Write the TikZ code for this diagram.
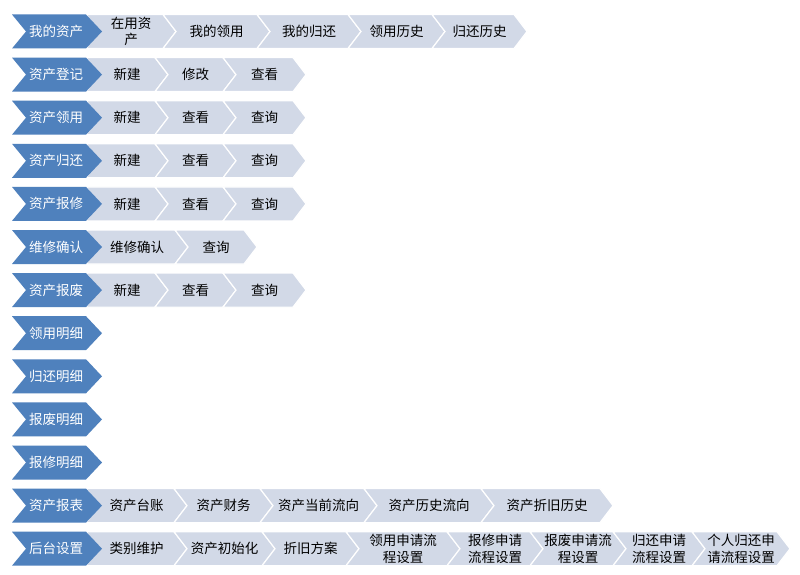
\documentclass[tikz,border=0pt]{standalone}
\usepackage{fontspec}
\newfontfamily\cjk{Noto Sans CJK SC}
\definecolor{bluec}{HTML}{4F81BD}
\definecolor{lightc}{HTML}{D2D9E7}
\tikzset{
 lchevron/.style={fill=lightc, draw=white, line width=1.2pt, line join=miter},
 bchevron/.style={fill=bluec, draw=none},
 ltext/.style={font=\cjk\fontsize{13.5}{16.5}\selectfont, text=black, align=center, inner sep=0pt},
 btext/.style={ltext, text=white},
}
\newcommand\lchev[5]{%
 \filldraw[lchevron] (#3,#2) -- (#4,#2) -- (#4+13,#2+17) -- (#4,#2+34) -- (#3,#2+34) -- (#3+13,#2+17) -- cycle;
 \node[ltext] (#1) at ({(#3+#4)/2+6.5},#2+17) {#5};}
\newcommand\bchev[3]{%
 \fill[bchevron] (12,#2) -- (86,#2) -- (102,#2+17) -- (86,#2+34) -- (12,#2+34) -- (26,#2+17) -- cycle;
 \node[btext] (#1) at (56,#2+17) {#3};}
\begin{document}
\begin{tikzpicture}[x=1pt,y=-1pt]
\fill[white] (0,0) rectangle (800,575);
\useasboundingbox (0,0) rectangle (800,575);
% row 1
\lchev{a1}{14.5}{86}{163}{在用资\\产}
\lchev{a2}{14.5}{163}{257}{我的领用}
\lchev{a3}{14.5}{257}{348}{我的归还}
\lchev{a4}{14.5}{348}{432}{领用历史}
\lchev{a5}{14.5}{432}{514}{归还历史}
\bchev{b1}{14.5}{我的资产}
% row 2
\lchev{c1}{57.6}{86}{155}{新建}
\lchev{c2}{57.6}{155}{223}{修改}
\lchev{c3}{57.6}{223}{293}{查看}
\bchev{b2}{57.6}{资产登记}
% row 3
\lchev{d1}{100.7}{86}{155}{新建}
\lchev{d2}{100.7}{155}{223}{查看}
\lchev{d3}{100.7}{223}{293}{查询}
\bchev{b3}{100.7}{资产领用}
% row 4
\lchev{e1}{143.8}{86}{155}{新建}
\lchev{e2}{143.8}{155}{223}{查看}
\lchev{e3}{143.8}{223}{293}{查询}
\bchev{b4}{143.8}{资产归还}
% row 5
\lchev{f1}{186.9}{86}{155}{新建}
\lchev{f2}{186.9}{155}{223}{查看}
\lchev{f3}{186.9}{223}{293}{查询}
\bchev{b5}{186.9}{资产报修}
% row 6
\lchev{g1}{230.0}{86}{175}{维修确认}
\lchev{g2}{230.0}{175}{244}{查询}
\bchev{b6}{230.0}{维修确认}
% row 7
\lchev{h1}{273.1}{86}{155}{新建}
\lchev{h2}{273.1}{155}{223}{查看}
\lchev{h3}{273.1}{223}{293}{查询}
\bchev{b7}{273.1}{资产报废}
% rows 8-11
\bchev{b8}{316.2}{领用明细}
\bchev{b9}{359.3}{归还明细}
\bchev{b10}{402.4}{报废明细}
\bchev{b11}{445.5}{报修明细}
% row 12
\lchev{k1}{488.6}{86}{174}{资产台账}
\lchev{k2}{488.6}{174}{260}{资产财务}
\lchev{k3}{488.6}{260}{364}{资产当前流向}
\lchev{k4}{488.6}{364}{481}{资产历史流向}
\lchev{k5}{488.6}{481}{600}{资产折旧历史}
\bchev{b12}{488.6}{资产报表}
% row 13
\lchev{m1}{531.7}{86}{174}{类别维护}
\lchev{m2}{531.7}{174}{262}{资产初始化}
\lchev{m3}{531.7}{262}{346}{折旧方案}
\lchev{m4}{531.7}{346}{447}{领用申请流\\程设置}
\lchev{m5}{531.7}{447}{530}{报修申请\\流程设置}
\lchev{m6}{531.7}{530}{613}{报废申请流\\程设置}
\lchev{m7}{531.7}{613}{692}{归还申请\\流程设置}
\lchev{m8}{531.7}{692}{777}{个人归还申\\请流程设置}
\bchev{b13}{531.7}{后台设置}
\end{tikzpicture}
\end{document}
